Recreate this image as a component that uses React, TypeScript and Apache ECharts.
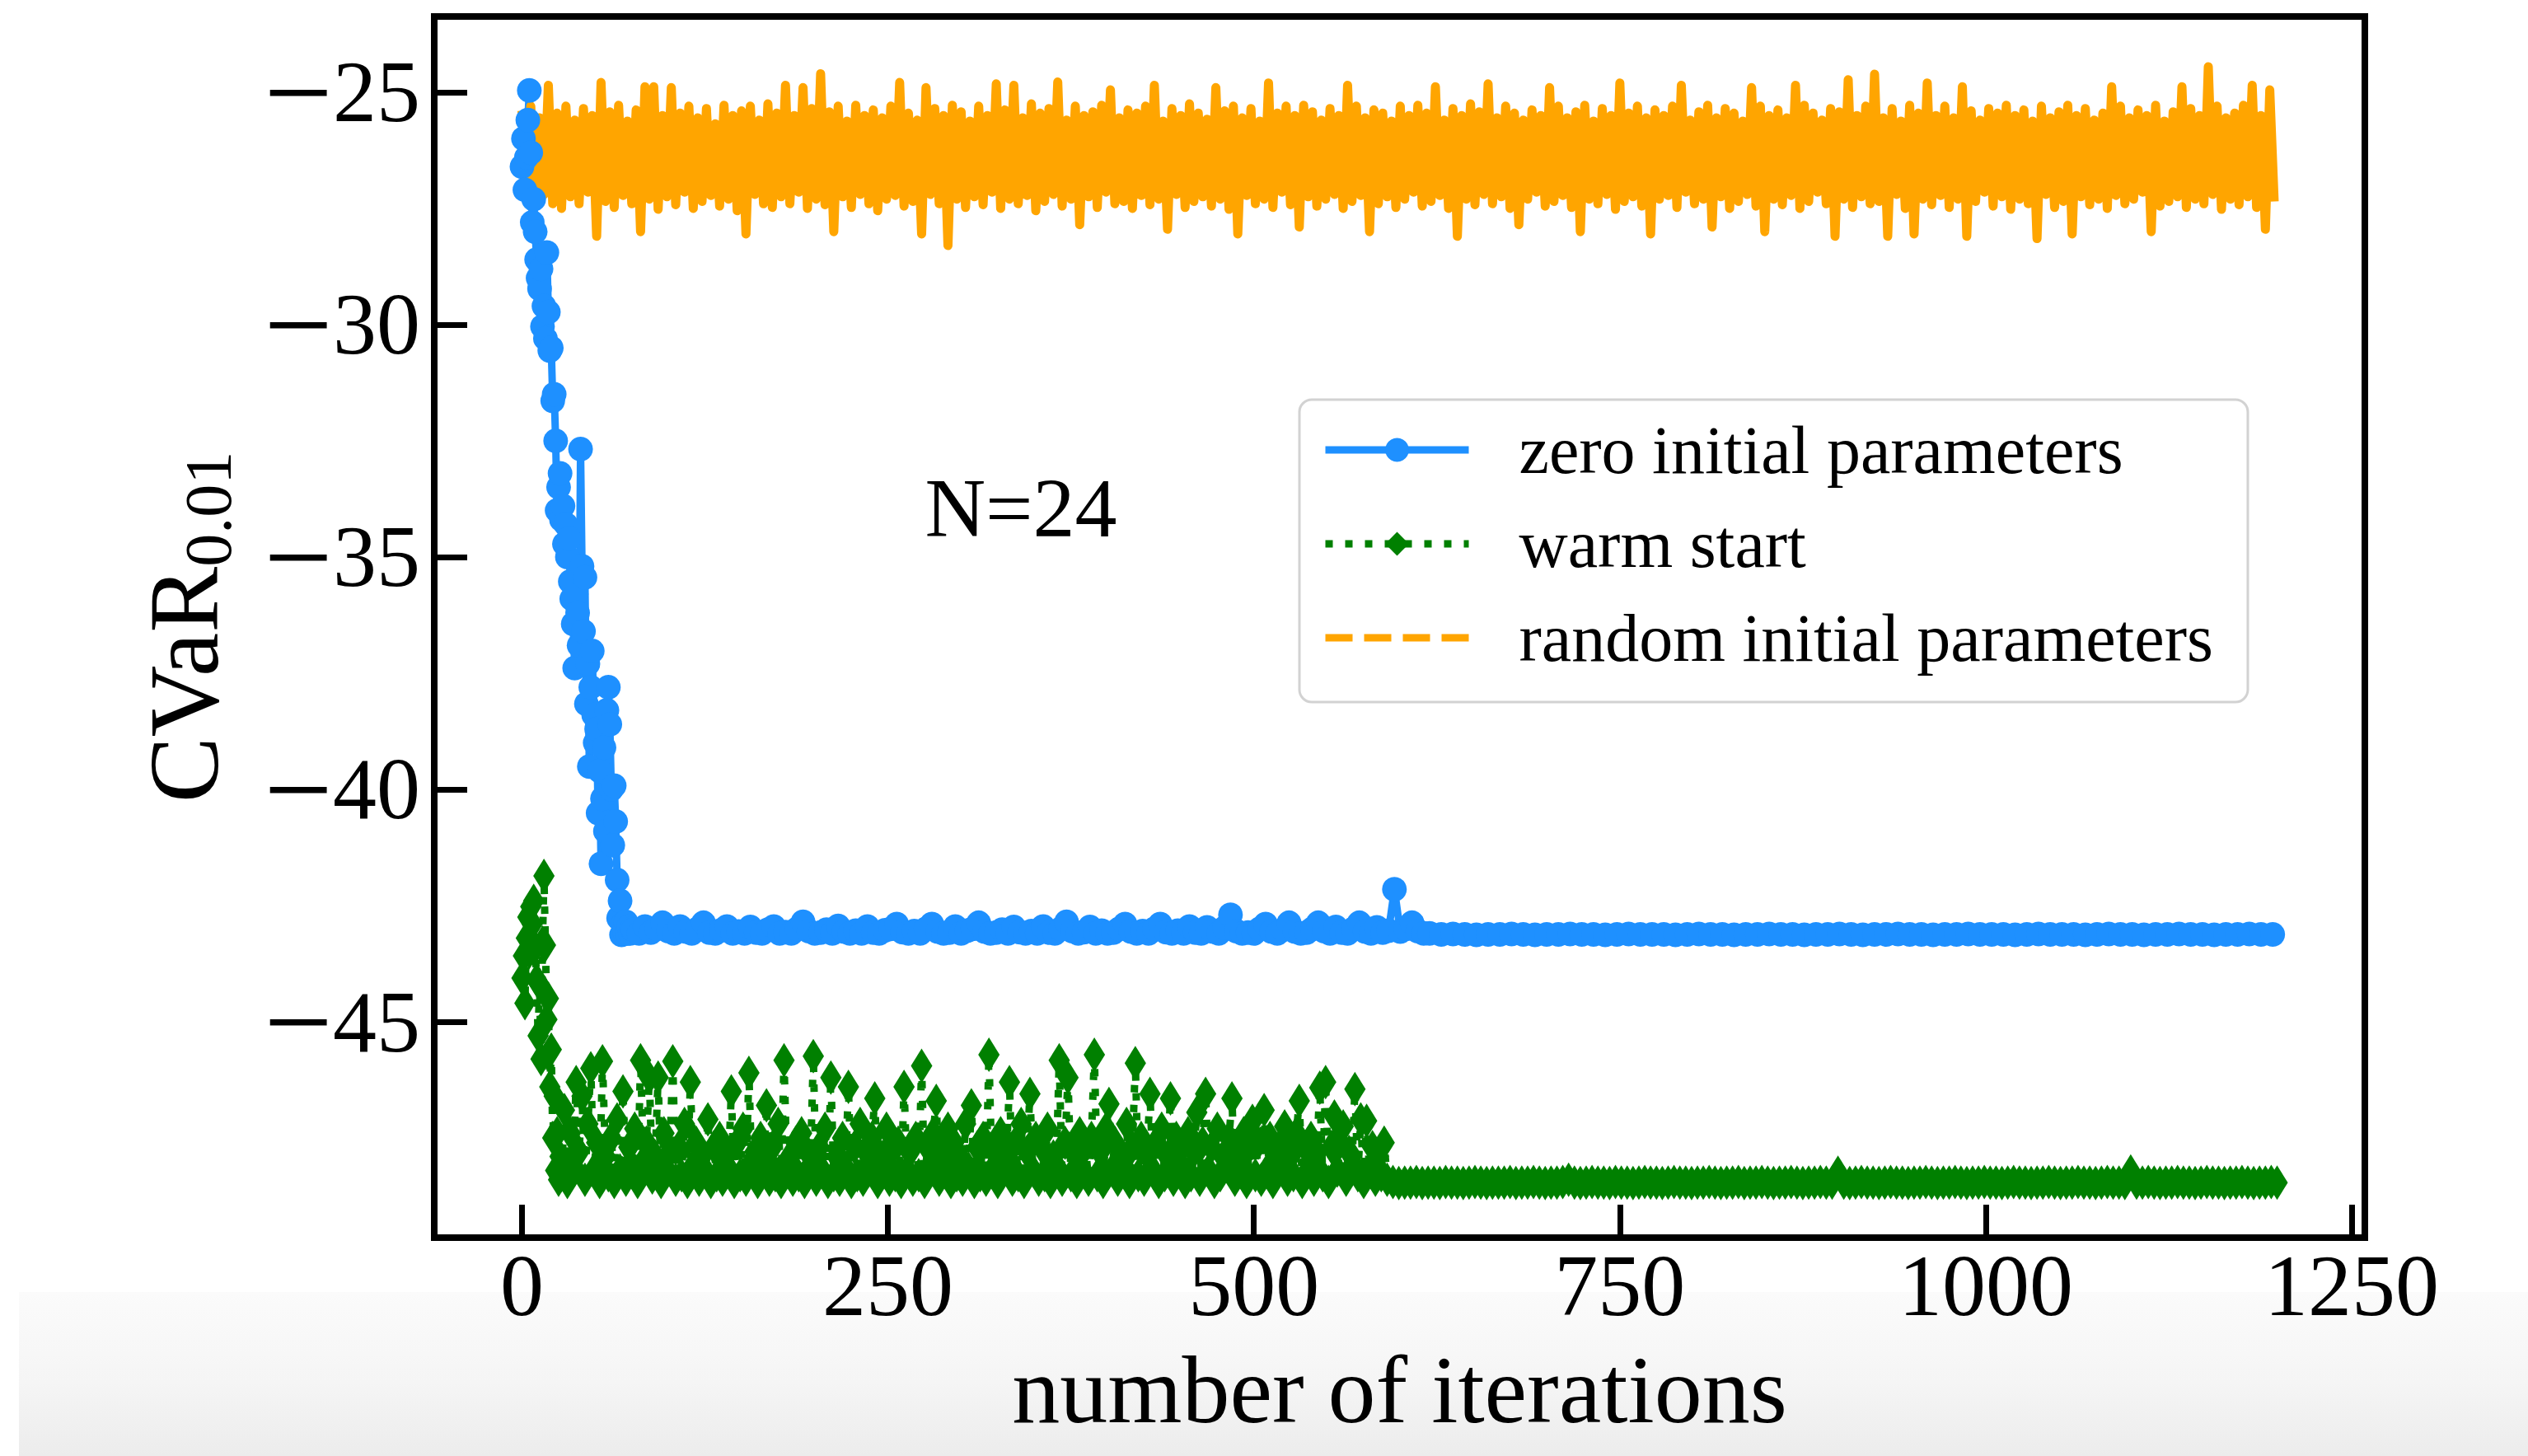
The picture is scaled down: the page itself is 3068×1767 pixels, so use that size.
import React, { useEffect, useRef } from 'react';
import * as echarts from 'echarts';

// ---------- axis ticks ----------
const xTicks = [0, 250, 500, 750, 1000, 1250];
const yTicks = [-45, -40, -35, -30, -25];
const xRange = [-59.95, 1258.95];
const yRange = [-49.645, -23.37];

// ---------- zero initial parameters (blue) ----------
// iterations 0..75, one per iteration
const zeroEarlyStart = 0;
const zeroEarlyStep = 1;
const zeroEarly = [
  -26.6, -26.0, -27.1, -26.4, -25.6, -24.96, -26.3, -27.8, -27.3, -28.0,
  -28.6, -29.0, -29.23, -28.8, -30.04, -29.6, -30.3, -28.45, -29.73, -30.56,
  -30.5, -31.64, -31.5, -32.5, -34.0, -33.5, -33.2, -34.2, -33.9, -34.72,
  -34.3, -35.0, -34.6, -35.53, -35.9, -36.44, -37.39, -35.8, -36.2, -36.9,
  -32.68, -35.2, -36.6, -35.44, -38.16, -37.3, -39.51, -37.8, -37.02, -38.4,
  -39.0, -38.7, -40.51, -39.6, -41.6, -40.2, -39.1, -40.9, -38.3, -37.8,
  -38.6, -40.0, -41.2, -39.92, -40.69, -41.95, -42.77, -42.4, -43.13, -42.9,
  -43.05, -42.85, -43.1, -42.95, -43.1, -43.0,
];
// iterations 76..620, every 4th iteration
const zeroMidStart = 76;
const zeroMidStep = 4;
const zeroMid = [
  -43.02, -43.1, -42.95, -43.08, -43.0, -42.87, -43.05, -43.1, -42.95, -43.06,
  -43.1, -43.0, -42.87, -43.08, -43.1, -43.03, -42.95, -43.1, -43.06, -43.1,
  -42.96, -43.08, -43.1, -43.02, -42.95, -43.1, -43.07, -43.1, -43.0, -42.85,
  -43.05, -43.1, -43.08, -43.02, -43.1, -42.94, -43.06, -43.1, -43.04, -43.1,
  -42.95, -43.08, -43.1, -43.03, -43.0, -42.9, -43.07, -43.1, -43.05, -43.1,
  -43.0, -42.9, -43.06, -43.1, -43.08, -42.95, -43.1, -43.04, -43.0, -42.87,
  -43.06, -43.1, -43.08, -43.02, -43.1, -42.96, -43.07, -43.1, -43.05, -43.1,
  -42.95, -43.08, -43.1, -43.0, -42.85, -43.05, -43.1, -43.07, -42.96, -43.1,
  -43.04, -43.1, -43.08, -43.0, -42.9, -43.06, -43.1, -43.05, -43.1, -43.0,
  -42.9, -43.07, -43.1, -43.04, -43.1, -42.95, -43.08, -43.1, -42.97, -43.06,
  -43.1, -42.98, -42.7, -43.05, -43.1, -43.08, -43.1, -43.0, -42.9, -43.06,
  -43.1, -43.02, -42.87, -43.06, -43.1, -43.08, -43.0, -42.87, -43.05, -43.1,
  -42.96, -43.08, -43.1, -43.0, -42.87, -43.06, -43.1, -42.97, -43.08, -43.04,
  -42.15, -43.06, -43.0, -42.87, -43.05, -43.1, -43.1,
];
// iterations 628..1196, every 8th iteration
const zeroLateStart = 628;
const zeroLateStep = 8;
const zeroLate = [
  -43.12, -43.11, -43.12, -43.13, -43.12, -43.12, -43.11, -43.12, -43.13, -43.12, -43.12, -43.11,
  -43.12, -43.12, -43.13, -43.12, -43.11, -43.12, -43.12, -43.12, -43.13, -43.12, -43.11, -43.12,
  -43.12, -43.13, -43.12, -43.12, -43.11, -43.12, -43.12, -43.13, -43.12, -43.12, -43.11, -43.12,
  -43.13, -43.12, -43.12, -43.11, -43.12, -43.12, -43.13, -43.12, -43.12, -43.11, -43.12, -43.12,
  -43.12, -43.13, -43.12, -43.11, -43.12, -43.12, -43.12, -43.13, -43.12, -43.11, -43.12, -43.12,
  -43.13, -43.12, -43.12, -43.11, -43.12, -43.12, -43.13, -43.12, -43.12, -43.11, -43.12, -43.12,
];

// ---------- warm start (green) ----------
// iterations 0..26, one per iteration
const warmEarlyStart = 0;
const warmEarlyStep = 1;
const warmEarly = [
  -44.06, -43.58, -44.6, -43.2, -42.75, -43.5, -42.52, -42.9, -42.4, -43.4,
  -44.1, -45.3, -44.2, -45.8, -43.3, -41.86, -43.35, -44.95, -44.5, -46.4,
  -45.6, -47.5, -46.6, -48.2, -47.4, -48.4, -47.9,
];
// iterations 27..591, every 2nd iteration
const warmMidStart = 27;
const warmMidStep = 2;
const warmMid = [
  -48.3, -46.9, -48.45, -47.4, -48.1, -46.3, -47.8, -46.6, -48.4, -47.2, -46.0, -48.2, -47.6, -48.45, -45.85, -47.9, -48.3, -47.5, -48.45, -47.1,
  -48.2, -46.5, -48.4, -47.7, -48.1, -47.3, -48.45, -45.83, -48.0, -47.6, -46.2, -48.35, -47.9, -46.2, -48.45, -47.4, -48.2, -47.8, -45.85, -48.4,
  -47.7, -48.3, -47.2, -48.45, -46.3, -48.1, -47.6, -48.4, -47.9, -48.2, -47.1, -48.45, -47.7, -48.3, -47.5, -48.4, -47.85, -48.15, -46.5, -48.45,
  -47.6, -48.3, -47.3, -48.4, -46.1, -48.2, -47.8, -48.45, -47.5, -48.1, -46.8, -48.4, -47.7, -48.3, -47.2, -48.45, -45.83, -48.2, -47.9, -48.4,
  -47.6, -48.3, -47.4, -48.45, -47.8, -48.1, -45.74, -48.4, -47.7, -48.2, -47.3, -48.45, -46.2, -48.3, -47.9, -48.4, -47.5, -48.15, -46.4, -48.45,
  -47.7, -48.3, -47.2, -48.4, -47.8, -48.2, -47.5, -46.65, -48.45, -47.9, -48.1, -47.3, -48.4, -47.7, -48.3, -47.6, -48.45, -46.4, -48.2, -47.8,
  -48.4, -47.5, -48.3, -45.95, -48.45, -47.7, -48.1, -47.4, -46.7, -48.4, -47.8, -48.2, -47.3, -48.45, -47.6, -48.3, -47.9, -48.4, -47.2, -48.15,
  -46.8, -48.45, -47.7, -48.3, -47.5, -48.4, -45.71, -48.2, -47.8, -48.45, -47.4, -48.1, -47.9, -46.3, -48.4, -47.6, -48.3, -47.2, -48.45, -47.8,
  -46.55, -48.2, -47.5, -48.4, -47.7, -48.3, -47.3, -48.45, -47.9, -48.1, -45.83, -48.4, -47.6, -46.2, -48.3, -47.8, -48.45, -47.4, -48.2, -47.7,
  -48.4, -47.5, -45.71, -48.3, -47.8, -48.45, -47.3, -46.77, -48.2, -47.6, -48.4, -47.9, -48.1, -47.2, -48.45, -47.7, -45.89, -48.3, -47.5, -48.4,
  -47.8, -46.55, -48.2, -47.6, -48.45, -47.3, -48.3, -47.9, -46.65, -48.4, -47.5, -48.1, -47.7, -48.45, -47.4, -48.3, -47.8, -46.95, -48.4, -47.6,
  -46.55, -48.2, -47.7, -48.45, -47.3, -48.3, -47.9, -48.1, -47.5, -46.65, -48.4, -47.8, -48.2, -47.4, -48.45, -47.7, -47.13, -48.3, -47.6, -48.4,
  -46.9, -48.2, -47.5, -48.45, -47.8, -48.1, -47.6, -47.25, -48.4, -47.9, -48.3, -47.4, -46.7, -48.45, -47.7, -48.2, -47.5, -48.4, -47.8, -46.42,
  -48.3, -46.3, -48.45, -47.7, -47.04, -48.2, -47.6, -47.25, -48.4, -47.8, -48.1, -46.45, -48.3, -47.1, -48.45, -47.13, -48.2, -47.7, -48.4, -47.9,
  -48.3, -47.6, -48.4,
];
// iterations 595..1199, every 4th iteration
const warmLateStart = 595;
const warmLateStep = 4;
const warmLate = [
  -48.45, -48.47, -48.46, -48.46, -48.45, -48.47, -48.46, -48.46, -48.47, -48.45, -48.46, -48.46, -48.47, -48.46, -48.45, -48.46, -48.47, -48.46, -48.46,
  -48.46, -48.45, -48.47, -48.46, -48.46, -48.45, -48.46, -48.47, -48.46, -48.46, -48.45, -48.4, -48.46, -48.47, -48.46, -48.45, -48.46, -48.46, -48.47,
  -48.45, -48.46, -48.46, -48.47, -48.46, -48.45, -48.46, -48.46, -48.47, -48.46, -48.45, -48.46, -48.46, -48.47, -48.46, -48.46, -48.45, -48.46, -48.47,
  -48.46, -48.46, -48.45, -48.47, -48.46, -48.46, -48.45, -48.46, -48.47, -48.46, -48.46, -48.45, -48.46, -48.47, -48.46, -48.46, -48.45, -48.46, -48.46,
  -48.25, -48.46, -48.47, -48.46, -48.45, -48.46, -48.46, -48.47, -48.46, -48.45, -48.46, -48.46, -48.47, -48.46, -48.46, -48.45, -48.46, -48.47, -48.46,
  -48.46, -48.45, -48.46, -48.47, -48.46, -48.46, -48.45, -48.46, -48.46, -48.47, -48.46, -48.45, -48.46, -48.46, -48.47, -48.46, -48.46, -48.45, -48.46,
  -48.47, -48.46, -48.46, -48.45, -48.46, -48.46, -48.47, -48.46, -48.45, -48.46, -48.46, -48.47, -48.22, -48.46, -48.46, -48.45, -48.46, -48.47, -48.46,
  -48.46, -48.45, -48.46, -48.46, -48.47, -48.46, -48.45, -48.46, -48.46, -48.47, -48.46, -48.46, -48.45, -48.46, -48.47, -48.46, -48.46, -48.45, -48.46,
];

// ---------- random initial parameters (orange) ----------
// iterations 0..1197, every 3rd iteration
const randomStart = 0;
const randomStep = 3;
const randomVals = [
  -25.4, -27.3, -25.3, -27.45, -25.55, -27.2, -24.85, -27.4, -25.45, -27.5, -25.3, -27.25, -25.6, -27.4, -25.35, -27.15, -25.5, -28.1, -24.79, -27.35,
  -25.42, -27.48, -25.28, -27.22, -25.62, -27.4, -25.38, -28.0, -24.88, -27.3, -24.88, -27.52, -25.5, -27.25, -24.9, -27.42, -25.45, -27.15, -25.3, -27.5,
  -25.55, -27.35, -25.35, -27.22, -25.68, -27.45, -25.28, -27.3, -25.5, -27.55, -25.4, -28.05, -25.3, -27.2, -25.6, -27.4, -25.25, -27.48, -25.45, -27.25,
  -24.85, -27.4, -25.5, -27.15, -24.9, -27.5, -25.35, -27.3, -24.6, -27.42, -25.42, -28.0, -25.3, -27.25, -25.62, -27.48, -25.28, -27.2, -25.5, -27.4,
  -25.38, -27.55, -25.55, -27.3, -25.3, -27.22, -24.79, -27.45, -25.45, -27.35, -25.6, -28.05, -24.9, -27.2, -25.35, -27.4, -25.5, -28.3, -25.28, -27.3,
  -25.42, -27.48, -25.62, -27.25, -25.3, -27.42, -25.5, -27.15, -24.82, -27.5, -25.38, -27.3, -24.85, -27.4, -25.55, -27.22, -25.25, -27.55, -25.45, -27.35,
  -25.35, -27.2, -24.78, -27.45, -25.6, -27.3, -25.3, -27.85, -25.5, -27.25, -25.42, -27.48, -25.28, -27.15, -24.95, -27.4, -25.55, -27.35, -25.38, -27.5,
  -25.45, -27.22, -25.3, -27.42, -24.85, -27.3, -25.62, -27.95, -25.35, -27.2, -25.5, -27.48, -25.25, -27.35, -25.45, -27.25, -25.58, -27.45, -24.9, -27.3,
  -25.4, -27.52, -25.3, -28.05, -25.55, -27.22, -25.35, -27.4, -25.62, -27.3, -24.8, -27.48, -25.45, -27.15, -25.3, -27.42, -25.5, -27.9, -25.28, -27.25,
  -25.42, -27.45, -25.6, -27.3, -25.35, -27.2, -25.5, -27.5, -24.85, -27.35, -25.3, -27.22, -25.55, -28.0, -25.38, -27.4, -25.45, -27.25, -25.62, -27.48,
  -25.3, -27.3, -25.5, -27.15, -25.28, -27.45, -25.45, -27.35, -24.88, -27.22, -25.6, -27.5, -25.35, -28.1, -25.5, -27.3, -25.25, -27.42, -25.42, -27.2,
  -24.82, -27.4, -25.55, -27.25, -25.3, -27.5, -25.45, -27.85, -25.6, -27.3, -25.38, -27.15, -25.5, -27.45, -24.9, -27.35, -25.3, -27.22, -25.55, -27.48,
  -25.42, -28.0, -25.28, -27.3, -25.62, -27.4, -25.35, -27.2, -25.5, -27.52, -24.8, -27.35, -25.45, -27.25, -25.3, -27.45, -25.55, -28.05, -25.38, -27.3,
  -25.5, -27.22, -25.3, -27.48, -24.85, -27.15, -25.6, -27.4, -25.42, -27.3, -25.28, -27.9, -25.55, -27.25, -25.35, -27.5, -25.45, -27.35, -25.62, -27.2,
  -24.9, -27.45, -25.3, -28.0, -25.5, -27.3, -25.38, -27.42, -25.55, -27.22, -24.85, -27.5, -25.28, -27.35, -25.45, -27.15, -25.6, -27.4, -25.35, -28.1,
  -25.42, -27.3, -24.73, -27.48, -25.5, -27.25, -25.3, -27.4, -24.61, -27.35, -25.55, -28.1, -25.35, -27.2, -25.62, -27.5, -25.28, -28.05, -25.45, -27.3,
  -24.8, -27.42, -25.5, -27.22, -25.3, -27.48, -25.55, -27.3, -24.88, -28.1, -25.4, -27.35, -25.6, -27.15, -25.35, -27.45, -25.45, -27.25, -25.28, -27.52,
  -25.5, -27.3, -25.38, -27.4, -25.62, -28.15, -25.3, -27.2, -25.55, -27.48, -25.42, -27.35, -25.28, -28.05, -25.5, -27.25, -25.35, -27.42, -25.6, -27.3,
  -25.45, -27.5, -24.88, -27.22, -25.3, -27.4, -25.55, -27.3, -25.38, -27.15, -25.5, -28.0, -25.28, -27.45, -25.62, -27.35, -25.42, -27.25, -24.88, -27.48,
  -25.35, -27.3, -25.5, -27.4, -24.45, -27.2, -25.3, -27.52, -25.55, -27.3, -25.45, -27.42, -25.28, -27.25, -24.85, -27.48, -25.5, -27.95, -24.95, -27.35,
];

const seriesNames = ['zero initial parameters', 'warm start', 'random initial parameters'];
const colors = ['#1e90ff', '#008000', '#ffa500'];
const annotation = 'N=24';

const FONT = 'Liberation Serif';

function seg(start: number, step: number, vals: number[]) {
  return vals.map((v, i) => [start + i * step, v]);
}

export default function App() {
  const ref = useRef<HTMLDivElement>(null);
  useEffect(() => {
    if (!ref.current) return;
    const chart = echarts.init(ref.current, null, { renderer: 'svg' });
    const zeroData = [
      ...seg(zeroEarlyStart, zeroEarlyStep, zeroEarly),
      ...seg(zeroMidStart, zeroMidStep, zeroMid),
      ...seg(zeroLateStart, zeroLateStep, zeroLate),
    ];
    const warmData = [
      ...seg(warmEarlyStart, warmEarlyStep, warmEarly),
      ...seg(warmMidStart, warmMidStep, warmMid),
      ...seg(warmLateStart, warmLateStep, warmLate),
    ];
    const randomData = seg(randomStart, randomStep, randomVals);
    const LW = 9;
    const solid = 'solid';
    const dotted = [9, 15];
    const dashed = [33, 14];
    chart.setOption({
      animation: false,
      backgroundColor: '#ffffff',
      grid: {
        left: 527, top: 20, width: 2343, height: 1482,
        show: true, borderColor: '#000', borderWidth: 8, backgroundColor: 'transparent',
        containLabel: false, outerBoundsMode: 'none',
      },
      xAxis: {
        type: 'value', min: xRange[0], max: xRange[1],
        axisLine: { show: false, onZero: false },
        splitLine: { show: false },
        axisTick: { show: true, inside: true, length: 40, lineStyle: { color: '#000', width: 7 }, customValues: xTicks },
        axisLabel: {
          customValues: xTicks, fontFamily: FONT, fontSize: 106, color: '#000', margin: 5,
          formatter: (v: number) => String(v),
        },
        name: 'number of iterations', nameLocation: 'middle', nameGap: 127,
        nameTextStyle: { fontFamily: FONT, fontSize: 116, color: '#000' },
      },
      yAxis: {
        type: 'value', min: yRange[0], max: yRange[1],
        axisLine: { show: false, onZero: false },
        splitLine: { show: false },
        axisTick: { show: true, inside: true, length: 40, lineStyle: { color: '#000', width: 7 }, customValues: yTicks },
        axisLabel: {
          customValues: yTicks, fontFamily: FONT, fontSize: 106, color: '#000', margin: 17,
          formatter: (v: number) => (v < 0 ? '{mi|\u2212}' : '') + Math.abs(v),
          rich: {
            mi: { fontFamily: FONT, fontSize: 148, color: '#000' },
          },
        },
        name: '{m|CVaR}{s|0.01}', nameLocation: 'middle', nameGap: 244, nameRotate: 90,
        nameTextStyle: {
          fontFamily: FONT, color: '#000',
          rich: {
            m: { fontFamily: FONT, fontSize: 120, color: '#000', verticalAlign: 'top', lineHeight: 120 },
            s: { fontFamily: FONT, fontSize: 80, color: '#000', verticalAlign: 'top', lineHeight: 80, padding: [50, 0, 0, 0] },
          },
        },
      },
      legend: {
        orient: 'vertical', left: 1577, top: 485,
        padding: [20, 42, 37, 27], itemGap: 32,
        itemWidth: 174, itemHeight: 36,
        backgroundColor: '#fff', borderColor: '#d2d2d2', borderWidth: 3, borderRadius: 15,
        selectedMode: false,
        lineStyle: { width: 9 },
        textStyle: { fontFamily: FONT, fontSize: 82, color: '#000', lineHeight: 82, padding: [0, 0, 0, 56] },
        data: [
          { name: seriesNames[0], lineStyle: { width: 9, type: solid } },
          { name: seriesNames[1], lineStyle: { width: 9, type: dotted } },
          { name: seriesNames[2], lineStyle: { width: 9, type: dashed }, itemStyle: { opacity: 0 } },
        ],
      },
      graphic: [
        {
          type: 'rect', z: -10, silent: true,
          shape: { x: 23, y: 1568, width: 3045, height: 199 },
          style: {
            fill: new echarts.graphic.LinearGradient(0, 0, 0, 1, [
              { offset: 0, color: '#fbfbfb' },
              { offset: 0.55, color: '#f5f5f5' },
              { offset: 1, color: '#ececec' },
            ]),
          },
        },
        {
          type: 'text', x: 1239, y: 616, silent: true, z: 10,
          style: {
            text: annotation, fontFamily: FONT, fontSize: 102, fill: '#000',
            align: 'center', verticalAlign: 'middle', textAlign: 'center', textVerticalAlign: 'middle',
          },
        },
      ],
      series: [
        {
          type: 'line', name: seriesNames[0], data: zeroData,
          symbol: 'circle', symbolSize: 30, showSymbol: true, showAllSymbol: true,
          lineStyle: { color: colors[0], width: LW, type: solid },
          itemStyle: { color: colors[0] },
          emphasis: { disabled: true }, silent: true,
        },
        {
          type: 'line', name: seriesNames[1], data: warmData,
          symbol: 'diamond', symbolSize: [26, 42], showSymbol: true, showAllSymbol: true,
          lineStyle: { color: colors[1], width: LW, type: dotted },
          itemStyle: { color: colors[1] },
          emphasis: { disabled: true }, silent: true,
        },
        {
          // dashed in the legend; at this point density the dashes merge into a solid band
          type: 'line', name: seriesNames[2], data: randomData,
          symbol: 'none', showSymbol: false,
          lineStyle: { color: colors[2], width: 11, type: solid, join: 'round' },
          itemStyle: { color: colors[2] },
          emphasis: { disabled: true }, silent: true,
        },
      ],
    });
    return () => chart.dispose();
  }, []);
  return <div ref={ref} style={{ position: 'absolute', left: 0, top: 0, width: 3068, height: 1767 }} />;
}
